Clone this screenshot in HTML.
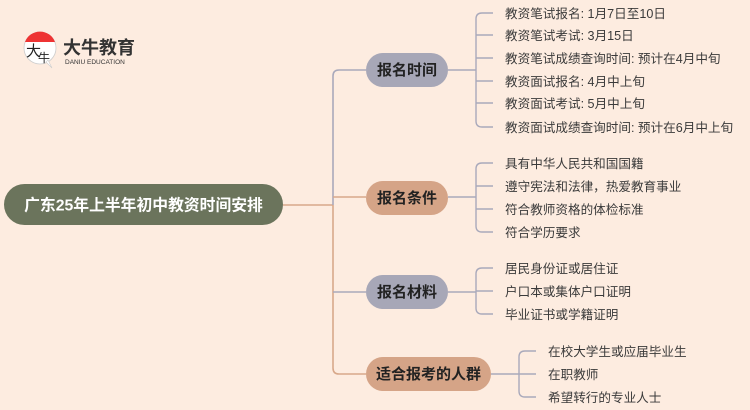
<!DOCTYPE html>
<html><head><meta charset="utf-8"><style>
html,body{margin:0;padding:0;background:#fdece0;}
svg{display:block;}
text{font-family:"Liberation Sans","Noto Sans CJK SC",sans-serif;}
.leaf{font-size:12.6px;fill:#3a3a3a;}
.nd{font-size:15px;font-weight:bold;fill:#222;}
</style></head><body>
<svg width="750" height="410" viewBox="0 0 750 410" xmlns="http://www.w3.org/2000/svg">
<rect width="750" height="410" fill="#fdece0"/>
<circle cx="40" cy="48" r="16" fill="#fff" stroke="#ccc" stroke-width="0.8"/>
<path d="M25 42 A16 16 0 0 1 55 42 Z" fill="#e33"/>
<path d="M46 62 L52 68 L48 60 Z" fill="#fff" stroke="#ccc" stroke-width="0.6"/>
<text x="26" y="56" font-size="15" fill="#222" font-family="'Noto Serif CJK SC',serif">大</text>
<text x="38" y="62" font-size="12" fill="#222" font-family="'Noto Serif CJK SC',serif">牛</text>
<text x="63" y="54" font-size="18" font-weight="bold" fill="#333">大牛教育</text>
<text x="65" y="64" font-size="6.5" fill="#333">DANIU EDUCATION</text>

<g fill="none" stroke-width="1.6">
<path d="M283 205 H333" stroke="#d8a88a"/>
<path d="M333 205 V76 Q333 70 339 70 H366" stroke="#a9a9bb"/>
<path d="M333 205 V368 Q333 374 339 374 H366" stroke="#d8a88a"/>
<path d="M333 197 H366" stroke="#d8a88a"/>
<path d="M333 292 H366" stroke="#a9a9bb"/>
</g>

<g fill="none" stroke="#a9a9bb" stroke-width="1.4">
<path d="M448 70 H476"/>
<path d="M476 19 Q476 13 482 13 H493 M476 19 V121 Q476 127 482 127 H493 M476 35 H493 M476 58 H493 M476 81 H493 M476 103 H493"/>
<path d="M448 197 H476"/>
<path d="M476 169 Q476 163 482 163 H493 M476 169 V226 Q476 232 482 232 H493 M476 186 H493 M476 209 H493"/>
<path d="M448 292 H476"/>
<path d="M476 274 Q476 268 482 268 H493 M476 274 V308 Q476 314 482 314 H493 M476 291 H493"/>
<path d="M491 374 H519"/>
<path d="M519 357 Q519 351 525 351 H536 M519 357 V391 Q519 397 525 397 H536 M519 374 H536"/>
</g>

<rect x="4" y="184" width="279" height="41" rx="20.5" fill="#6b745c"/>
<text x="143.5" y="210.5" text-anchor="middle" font-size="15.8" font-weight="bold" fill="#fff">广东25年上半年初中教资时间安排</text>

<rect x="366" y="53" width="82" height="34" rx="17" fill="#a7a7b7"/>
<text class="nd" x="407" y="75" text-anchor="middle">报名时间</text>
<rect x="366" y="181" width="82" height="34" rx="17" fill="#d5a487"/>
<text class="nd" x="407" y="203" text-anchor="middle">报名条件</text>
<rect x="366" y="275" width="82" height="34" rx="17" fill="#a7a7b7"/>
<text class="nd" x="407" y="297" text-anchor="middle">报名材料</text>
<rect x="366" y="357" width="125" height="34" rx="17" fill="#d5a487"/>
<text class="nd" x="428.5" y="379" text-anchor="middle">适合报考的人群</text>

<g class="leaf">
<text x="505" y="18">教资笔试报名: 1月7日至10日</text>
<text x="505" y="40">教资笔试考试: 3月15日</text>
<text x="505" y="63">教资笔试成绩查询时间: 预计在4月中旬</text>
<text x="505" y="86">教资面试报名: 4月中上旬</text>
<text x="505" y="108">教资面试考试: 5月中上旬</text>
<text x="505" y="132">教资面试成绩查询时间: 预计在6月中上旬</text>
<text x="505" y="168">具有中华人民共和国国籍</text>
<text x="505" y="191">遵守宪法和法律，热爱教育事业</text>
<text x="505" y="214">符合教师资格的体检标准</text>
<text x="505" y="237">符合学历要求</text>
<text x="505" y="273">居民身份证或居住证</text>
<text x="505" y="296">户口本或集体户口证明</text>
<text x="505" y="319">毕业证书或学籍证明</text>
<text x="548" y="356">在校大学生或应届毕业生</text>
<text x="548" y="379">在职教师</text>
<text x="548" y="402">希望转行的专业人士</text>
</g>
</svg>
</body></html>
